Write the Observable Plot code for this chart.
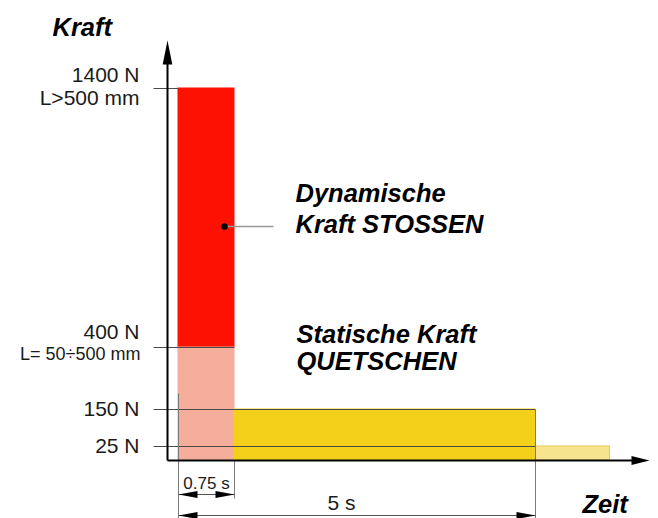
<!DOCTYPE html>
<html><head><meta charset="utf-8">
<script src="https://cdn.jsdelivr.net/npm/d3@7"></script>
<script src="https://cdn.jsdelivr.net/npm/@observablehq/plot@0.6"></script>
<style>
html,body{margin:0;padding:0;background:#fff;}
#chart svg{display:block;}
</style></head><body><div id="chart"></div>
<script>
// ---- data ----
const forceLevels = [25, 150, 400, 1400];                 // N
const forceLabels = ["25 N", "150 N", "400 N", "1400 N"];
const lengthLabels = ["", "", "L= 50÷500 mm", "L>500 mm"];
const levelLineEnds = [5, 5, 0.75, 0];                     // s, where each level line stops
const timeMarks = [0, 0.75, 5];                            // s
const timeLabels = ["0.75 s", "5 s"];
const phaseNames = ["Dynamisch L>500", "Dynamisch L=50÷500", "Statisch", "Rest"];
const phaseStart = [0, 0, 0.75, 5];
const phaseEnd   = [0.75, 0.75, 5, 6.05];
const phaseFrom  = [400, 0, 0, 0];
const phaseTo    = [1400, 400, 150, 25];
const phaseColors = ["#fd1100", "#f5ae9b", "#f3d11b", "#f7e48f"];
const phaseStroke = ["#fd1100", "#f5ae9b", "#f3d11b", "#e6c94e"];
const titleY = "Kraft", titleX = "Zeit";
const noteDyn = ["Dynamische", "Kraft STOSSEN"];
const noteStat = ["Statische Kraft", "QUETSCHEN"];

// ---- scales (piecewise, schematic) ----
const X = {type: "linear", domain: timeMarks, range: [178, 234, 535]};
const Y = {type: "linear", domain: [0, ...forceLevels], range: [460, 446, 409, 347, 88]};
const xs = Plot.scale({x: X}), ys = Plot.scale({y: Y});
const tx = px => xs.invert(px), vy = py => ys.invert(py);

const head = (len, half, ux, uy) => ({draw(ctx) {
  const bx = -ux * len, by = -uy * len, px = -uy * half, py = ux * half;
  ctx.moveTo(0, 0); ctx.lineTo(bx + px, by + py); ctx.lineTo(bx - px, by - py); ctx.closePath();
}});

const SANS = "'Liberation Sans', Arial, Helvetica, sans-serif";
const ink = "#1a1a1a";
const idx = phaseNames.map((_, i) => i);
const axisT = tx(167);
const d1 = vy(494), d2 = vy(515);
const lab = {textAnchor: "end", fontSize: 21, fill: ink, fontFamily: SANS};

const marks = [
  // bars
  Plot.rect(idx, {x1: i => phaseStart[i], x2: i => phaseEnd[i], y1: i => phaseFrom[i], y2: i => phaseTo[i],
    fill: i => phaseColors[i], stroke: i => phaseStroke[i], strokeWidth: 1}),
  // level lines
  Plot.link(forceLevels, {x1: tx(153), x2: (d, i) => levelLineEnds[i], y1: d => d, y2: d => d, stroke: "#4a4a4a", strokeWidth: 1}),
  // extension lines
  Plot.link([0], {x1: timeMarks[0], x2: timeMarks[0], y1: vy(393), y2: vy(518), stroke: "#7a7a7a", strokeWidth: 1}),
  Plot.link([0], {x1: timeMarks[1], x2: timeMarks[1], y1: 0, y2: vy(498), stroke: "#7a7a7a", strokeWidth: 1}),
  Plot.link([0], {x1: timeMarks[2], x2: timeMarks[2], y1: forceLevels[1], y2: vy(518), stroke: "#7a7a7a", strokeWidth: 1}),
  // dimension lines
  Plot.link([0], {x1: timeMarks[0], x2: timeMarks[1], y1: d1, y2: d1, stroke: "#555", strokeWidth: 1}),
  Plot.link([0], {x1: timeMarks[0], x2: timeMarks[2], y1: d2, y2: d2, stroke: "#555", strokeWidth: 1}),
  Plot.dot([0], {x: timeMarks[0], y: d1, symbol: head(19, 3.5, -1, 0), fill: "#000", stroke: "none"}),
  Plot.dot([0], {x: timeMarks[1], y: d1, symbol: head(19, 3.5, 1, 0), fill: "#000", stroke: "none"}),
  Plot.dot([0], {x: timeMarks[0], y: d2, symbol: head(19, 3.5, -1, 0), fill: "#000", stroke: "none"}),
  Plot.dot([0], {x: timeMarks[2], y: d2, symbol: head(19, 3.5, 1, 0), fill: "#000", stroke: "none"}),
  // axes
  Plot.link([0], {x1: axisT, x2: axisT, y1: 0, y2: vy(55), stroke: "#000", strokeWidth: 2}),
  Plot.link([0], {x1: axisT, x2: tx(635), y1: 0, y2: 0, stroke: "#000", strokeWidth: 2}),
  Plot.dot([0], {x: axisT, y: vy(40), symbol: head(24, 4.8, 0, -1), fill: "#000", stroke: "none"}),
  Plot.dot([0], {x: tx(649), y: 0, symbol: head(18, 4.5, 1, 0), fill: "#000", stroke: "none"}),
  // tick labels
  Plot.text([forceLevels[0]], {...lab, x: tx(139), y: d => d, text: [forceLabels[0]]}),
  Plot.text([forceLevels[1]], {...lab, x: tx(139), y: d => d, text: [forceLabels[1]]}),
  Plot.text([forceLevels[2]], {...lab, x: tx(139), y: d => d, dy: -15, text: [forceLabels[2]]}),
  Plot.text([forceLevels[2]], {...lab, x: tx(140), y: d => d, dy: 7, text: [lengthLabels[2]], fontSize: 18}),
  Plot.text([forceLevels[3]], {...lab, x: tx(139), y: d => d, dy: -13, text: [forceLabels[3]]}),
  Plot.text([forceLevels[3]], {...lab, x: tx(139), y: d => d, dy: 10, text: [lengthLabels[3]]}),
  // time labels
  Plot.text([0], {x: (timeMarks[0] + timeMarks[1]) / 2, y: vy(488), text: [timeLabels[0]], lineAnchor: "bottom", fontSize: 17, fill: ink, fontFamily: SANS}),
  Plot.text([0], {x: tx(341), y: vy(509), text: [timeLabels[1]], lineAnchor: "bottom", fontSize: 21, fill: ink, fontFamily: SANS}),
  // annotation dot + leader
  Plot.link([0], {x1: tx(226), x2: tx(273), y1: vy(226), y2: vy(226), stroke: "#999", strokeWidth: 1.5}),
  Plot.dot([0], {x: tx(224), y: vy(226), r: 3.2, fill: "#000", stroke: "none"}),
  // titles & notes
  ...[[titleY, 52, 35], [titleX, 582, 512], [noteDyn[0], 295, 201], [noteDyn[1], 295, 232],
      [noteStat[0], 296, 342], [noteStat[1], 296, 369]].map(([t, px, py]) =>
    Plot.text([0], {x: tx(px), y: vy(py), text: [t], textAnchor: "start", lineAnchor: "bottom",
      fontSize: 25.5, fontWeight: "bold", fontStyle: "italic", fill: "#000", fontFamily: SANS}))
];

const chart = Plot.plot({
  width: 658, height: 518, margin: 0,
  x: {...X, axis: null}, y: {...Y, axis: null},
  color: {type: "identity"},
  style: {background: "#fff", fontFamily: SANS},
  marks
});
document.getElementById("chart").append(chart);
</script></body></html>
